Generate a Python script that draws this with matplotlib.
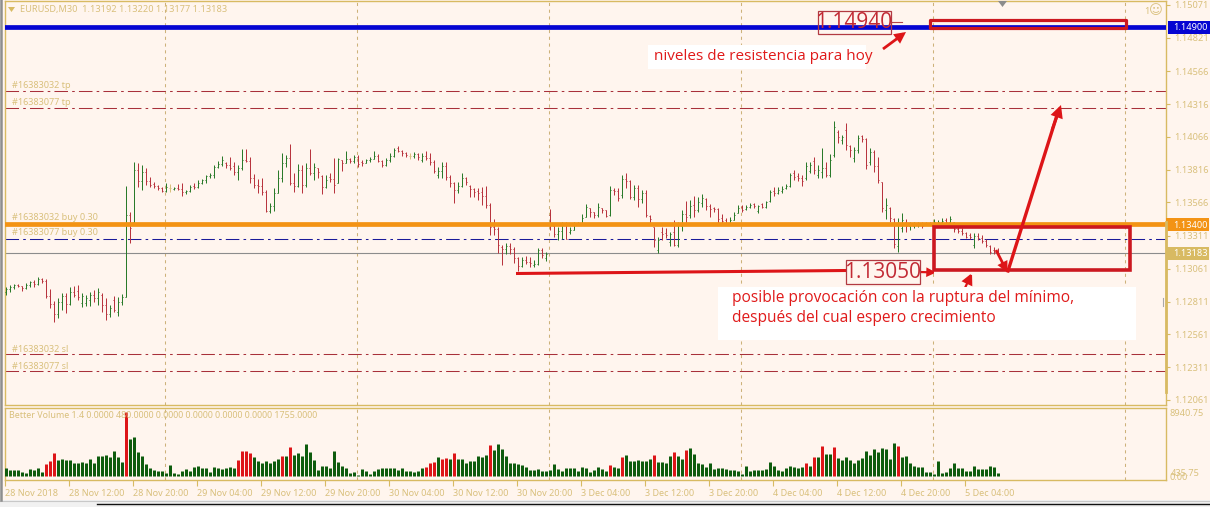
import matplotlib
matplotlib.use("Agg")
import matplotlib.pyplot as plt
from matplotlib.patches import Rectangle, FancyArrowPatch

opens = [
1.12884,1.12907,1.12922,1.12937,1.12930,1.12914,1.12937,1.12960,1.12945,1.12983,
1.12968,1.12854,1.12792,1.12716,1.12808,1.12854,1.12792,1.12884,1.12892,1.12800,
1.12800,1.12823,1.12861,1.12838,1.12861,1.12785,1.12716,1.12823,1.12732,1.12808,
1.12846,1.13471,1.13417,1.13814,1.13730,1.13798,1.13730,1.13707,1.13692,1.13676,
1.13654,1.13676,1.13669,1.13676,1.13669,1.13646,1.13654,1.13692,1.13684,1.13714,
1.13737,1.13768,1.13776,1.13836,1.13859,1.13867,1.13852,1.13844,1.13798,1.13829,
1.13890,1.13882,1.13753,1.13699,1.13692,1.13646,1.13501,1.13539,1.13638,1.13753,
1.13867,1.13905,1.13714,1.13692,1.13814,1.13699,1.13829,1.13791,1.13829,1.13768,
1.13684,1.13760,1.13745,1.13714,1.13890,1.13867,1.13897,1.13882,1.13913,1.13875,
1.13867,1.13890,1.13897,1.13920,1.13882,1.13852,1.13890,1.13920,1.13981,1.13958,
1.13943,1.13920,1.13920,1.13935,1.13890,1.13920,1.13905,1.13875,1.13776,1.13806,
1.13844,1.13760,1.13714,1.13661,1.13692,1.13753,1.13692,1.13669,1.13654,1.13646,
1.13616,1.13547,1.13379,1.13364,1.13227,1.13212,1.13235,1.13212,1.13143,1.13082,
1.13128,1.13113,1.13090,1.13097,1.13204,1.13143,1.13471,1.13387,1.13326,1.13349,
1.13394,1.13341,1.13356,1.13402,1.13402,1.13455,1.13524,1.13494,1.13471,1.13524,
1.13509,1.13471,1.13661,1.13654,1.13623,1.13745,1.13730,1.13608,1.13676,1.13593,
1.13638,1.13463,1.13379,1.13204,1.13341,1.13333,1.13265,1.13341,1.13242,1.13387,
1.13478,1.13471,1.13547,1.13509,1.13562,1.13593,1.13539,1.13524,1.13516,1.13448,
1.13433,1.13410,1.13433,1.13486,1.13532,1.13516,1.13532,1.13554,1.13501,1.13554,
1.13532,1.13577,1.13654,1.13638,1.13654,1.13676,1.13692,1.13791,1.13768,1.13753,
1.13753,1.13806,1.13882,1.13776,1.13798,1.13829,1.13776,1.13928,1.14103,1.14042,
1.14118,1.13996,1.13905,1.13966,1.14073,1.14050,1.13875,1.13951,1.13844,1.13722,
1.13509,1.13524,1.13440,1.13235,1.13372,1.13417,1.13387,1.13387,1.13394,1.13402,
1.13410,1.13402,1.13402,1.13402,1.13417,1.13433,1.13417,1.13417,1.13364,1.13349,
1.13333,1.13318,1.13242,1.13311,1.13295,1.13273,1.13235,1.13204,1.13192]
highs = [
1.12922,1.12937,1.12945,1.12945,1.12930,1.12953,1.12968,1.12975,1.12998,1.12991,
1.12983,1.12907,1.12815,1.12838,1.12876,1.12876,1.12922,1.12930,1.12937,1.12876,
1.12861,1.12884,1.12899,1.12914,1.12876,1.12838,1.12785,1.12854,1.12846,1.12869,
1.13692,1.13494,1.13875,1.13867,1.13852,1.13829,1.13760,1.13722,1.13699,1.13684,
1.13714,1.13707,1.13684,1.13707,1.13714,1.13661,1.13699,1.13714,1.13737,1.13745,
1.13776,1.13791,1.13852,1.13882,1.13920,1.13875,1.13913,1.13875,1.13852,1.13974,
1.13974,1.13913,1.13783,1.13745,1.13753,1.13661,1.13562,1.13676,1.13814,1.13943,
1.13928,1.14012,1.13791,1.13859,1.13852,1.13867,1.13974,1.13867,1.13829,1.13776,
1.13776,1.13791,1.13905,1.13905,1.13890,1.13958,1.13905,1.13928,1.13928,1.13890,
1.13897,1.13913,1.13958,1.13935,1.13890,1.13905,1.13943,1.13981,1.13996,1.13966,
1.13951,1.13943,1.13951,1.13943,1.13943,1.13958,1.13943,1.13890,1.13836,1.13875,
1.13875,1.13776,1.13722,1.13722,1.13791,1.13760,1.13699,1.13676,1.13676,1.13684,
1.13692,1.13562,1.13440,1.13379,1.13242,1.13257,1.13257,1.13227,1.13151,1.13151,
1.13158,1.13151,1.13128,1.13219,1.13219,1.13189,1.13516,1.13394,1.13379,1.13417,
1.13417,1.13379,1.13417,1.13417,1.13478,1.13554,1.13524,1.13494,1.13562,1.13524,
1.13509,1.13692,1.13676,1.13676,1.13776,1.13791,1.13737,1.13699,1.13699,1.13661,
1.13661,1.13471,1.13379,1.13303,1.13379,1.13372,1.13341,1.13433,1.13417,1.13509,
1.13577,1.13585,1.13616,1.13608,1.13631,1.13600,1.13554,1.13532,1.13524,1.13478,
1.13448,1.13455,1.13494,1.13547,1.13547,1.13547,1.13562,1.13562,1.13547,1.13562,
1.13577,1.13661,1.13684,1.13684,1.13692,1.13707,1.13791,1.13814,1.13791,1.13776,
1.13875,1.13875,1.13913,1.13852,1.13981,1.13875,1.13935,1.14187,1.14118,1.14080,
1.14172,1.14004,1.13989,1.14080,1.14080,1.14057,1.13981,1.13966,1.13913,1.13722,
1.13600,1.13532,1.13448,1.13448,1.13486,1.13440,1.13417,1.13417,1.13417,1.13417,
1.13417,1.13417,1.13440,1.13433,1.13448,1.13448,1.13463,1.13417,1.13379,1.13372,
1.13341,1.13333,1.13333,1.13333,1.13318,1.13288,1.13242,1.13227,1.13220]
lows = [
1.12861,1.12884,1.12907,1.12922,1.12892,1.12907,1.12922,1.12922,1.12937,1.12953,
1.12838,1.12762,1.12655,1.12686,1.12747,1.12724,1.12785,1.12846,1.12823,1.12770,
1.12777,1.12777,1.12808,1.12785,1.12732,1.12671,1.12693,1.12732,1.12701,1.12785,
1.12846,1.13257,1.13402,1.13684,1.13661,1.13699,1.13684,1.13676,1.13661,1.13646,
1.13646,1.13646,1.13661,1.13661,1.13616,1.13631,1.13646,1.13669,1.13676,1.13707,
1.13714,1.13753,1.13753,1.13829,1.13844,1.13829,1.13814,1.13776,1.13737,1.13814,
1.13875,1.13714,1.13676,1.13638,1.13623,1.13494,1.13486,1.13501,1.13638,1.13722,
1.13836,1.13699,1.13646,1.13684,1.13638,1.13684,1.13776,1.13737,1.13753,1.13631,
1.13676,1.13722,1.13638,1.13714,1.13806,1.13867,1.13867,1.13867,1.13836,1.13844,
1.13867,1.13875,1.13897,1.13875,1.13836,1.13844,1.13875,1.13913,1.13951,1.13920,
1.13913,1.13897,1.13905,1.13890,1.13875,1.13890,1.13852,1.13791,1.13753,1.13753,
1.13737,1.13684,1.13562,1.13638,1.13684,1.13699,1.13608,1.13608,1.13585,1.13547,
1.13524,1.13318,1.13318,1.13181,1.13090,1.13174,1.13174,1.13105,1.13044,1.13075,
1.13097,1.13075,1.13075,1.13090,1.13143,1.13120,1.13356,1.13303,1.13280,1.13288,
1.13288,1.13326,1.13356,1.13394,1.13394,1.13455,1.13455,1.13448,1.13455,1.13486,
1.13455,1.13463,1.13623,1.13577,1.13600,1.13676,1.13593,1.13585,1.13532,1.13562,
1.13455,1.13410,1.13227,1.13181,1.13280,1.13295,1.13235,1.13235,1.13227,1.13349,
1.13410,1.13448,1.13455,1.13494,1.13532,1.13509,1.13455,1.13494,1.13410,1.13394,
1.13394,1.13410,1.13433,1.13486,1.13494,1.13509,1.13524,1.13524,1.13486,1.13524,
1.13524,1.13570,1.13616,1.13631,1.13638,1.13669,1.13684,1.13737,1.13730,1.13692,
1.13737,1.13791,1.13783,1.13753,1.13753,1.13760,1.13760,1.13913,1.14019,1.14012,
1.13966,1.13913,1.13875,1.13943,1.14027,1.13821,1.13852,1.13798,1.13714,1.13494,
1.13440,1.13417,1.13219,1.13189,1.13341,1.13341,1.13356,1.13372,1.13379,1.13372,
1.13394,1.13394,1.13387,1.13394,1.13394,1.13394,1.13410,1.13341,1.13333,1.13318,
1.13295,1.13288,1.13219,1.13280,1.13257,1.13227,1.13174,1.13174,1.13177]
closes = [
1.12907,1.12922,1.12937,1.12930,1.12914,1.12937,1.12960,1.12945,1.12983,1.12968,
1.12854,1.12792,1.12716,1.12808,1.12854,1.12792,1.12884,1.12861,1.12846,1.12854,
1.12838,1.12861,1.12838,1.12884,1.12785,1.12716,1.12762,1.12747,1.12808,1.12846,
1.13471,1.13372,1.13814,1.13730,1.13798,1.13730,1.13699,1.13692,1.13676,1.13654,
1.13684,1.13676,1.13676,1.13669,1.13646,1.13654,1.13684,1.13684,1.13714,1.13737,
1.13768,1.13776,1.13836,1.13859,1.13890,1.13852,1.13829,1.13798,1.13829,1.13890,
1.13882,1.13753,1.13699,1.13692,1.13646,1.13501,1.13539,1.13638,1.13753,1.13867,
1.13905,1.13714,1.13692,1.13814,1.13699,1.13829,1.13791,1.13836,1.13798,1.13684,
1.13737,1.13745,1.13699,1.13897,1.13867,1.13897,1.13882,1.13913,1.13859,1.13867,
1.13890,1.13897,1.13920,1.13882,1.13852,1.13890,1.13920,1.13966,1.13958,1.13943,
1.13928,1.13920,1.13935,1.13913,1.13920,1.13905,1.13875,1.13806,1.13806,1.13844,
1.13760,1.13714,1.13661,1.13692,1.13753,1.13722,1.13669,1.13646,1.13638,1.13616,
1.13547,1.13379,1.13364,1.13242,1.13212,1.13235,1.13212,1.13143,1.13082,1.13128,
1.13113,1.13105,1.13097,1.13204,1.13166,1.13174,1.13394,1.13326,1.13349,1.13394,
1.13288,1.13356,1.13402,1.13410,1.13448,1.13532,1.13494,1.13471,1.13532,1.13509,
1.13463,1.13661,1.13654,1.13600,1.13745,1.13730,1.13608,1.13676,1.13593,1.13638,
1.13471,1.13440,1.13280,1.13280,1.13326,1.13318,1.13326,1.13242,1.13402,1.13478,
1.13455,1.13539,1.13509,1.13570,1.13600,1.13539,1.13516,1.13516,1.13440,1.13425,
1.13410,1.13433,1.13471,1.13524,1.13509,1.13532,1.13547,1.13539,1.13539,1.13532,
1.13570,1.13646,1.13638,1.13661,1.13669,1.13692,1.13776,1.13760,1.13753,1.13730,
1.13844,1.13852,1.13814,1.13814,1.13829,1.13776,1.13890,1.14141,1.14065,1.14065,
1.14004,1.13966,1.13966,1.14057,1.14050,1.13852,1.13951,1.13844,1.13737,1.13524,
1.13547,1.13448,1.13250,1.13402,1.13433,1.13387,1.13402,1.13402,1.13402,1.13387,
1.13402,1.13410,1.13417,1.13417,1.13425,1.13417,1.13440,1.13364,1.13349,1.13333,
1.13303,1.13303,1.13311,1.13295,1.13273,1.13242,1.13189,1.13189,1.13183]
volumes = [
1120,840,840,840,560,420,980,840,1120,560,
1680,2100,3220,2240,2380,2240,2240,1820,1820,1960,
1820,2380,1820,2800,2800,2940,2660,3500,2660,1960,
9100,5320,5600,3360,2800,1680,1120,840,700,700,
420,1540,420,280,700,980,700,1260,1400,1120,
1120,560,1260,1120,980,1120,1260,1120,2240,3500,
3500,3220,2660,2100,1820,2100,1820,2100,2380,2800,
2800,4060,2940,3220,2800,4620,3360,2240,840,1400,
1400,1120,3500,1960,1400,1120,420,560,140,980,
700,280,700,980,1120,1120,1120,1120,840,1120,
700,700,560,700,1120,1260,1820,1960,2660,2380,
2520,2380,3220,2380,2380,1820,2100,2100,2800,2660,
2940,4340,3640,4480,3780,2800,1820,1820,1680,1540,
1260,840,840,980,700,700,840,1680,980,700,
1120,1120,1120,700,1260,1120,560,840,1260,980,
700,1540,1260,1120,2660,2940,2100,2100,2240,2100,
2100,2380,2940,1960,1960,1820,2800,3360,2800,2380,
3640,3920,3080,1820,1680,1260,1820,980,1120,1120,
980,840,840,700,280,1400,700,840,840,840,
980,1960,1400,840,700,1120,1400,1260,1120,1260,
1820,1400,2660,2660,4200,3080,3080,4060,2520,2240,
2660,2240,1820,2240,2520,3500,2940,3780,3360,3920,
3780,2380,4760,4200,2660,2800,1820,1400,1260,1260,
560,560,280,2100,420,560,1120,1820,1120,1120,
700,700,1400,980,980,980,1400,1260,420]
red_volume_bars = [10,11,12,30,58,59,60,61,69,71,105,106,107,109,110,112,121,151,154,
                   162,167,170,200,202,204,207,223]

price_ticks = [1.15071,1.14821,1.14566,1.14316,1.14066,1.13816,1.13566,1.13311,1.13061,1.12811,1.12561,1.12311,1.12061]
price_tick_labels = ["1.15071","1.14821","1.14566","1.14316","1.14066","1.13816","1.13566","1.13311","1.13061","1.12811","1.12561","1.12311","1.12061"]
time_labels = ["28 Nov 2018","28 Nov 12:00","28 Nov 20:00","29 Nov 04:00","29 Nov 12:00","29 Nov 20:00",
               "30 Nov 04:00","30 Nov 12:00","30 Nov 20:00","3 Dec 04:00","3 Dec 12:00","3 Dec 20:00",
               "4 Dec 04:00","4 Dec 12:00","4 Dec 20:00","5 Dec 04:00"]
separators = [39.75,87.75,135.75,183.75,231.75,279.75]

resistance_level = 1.14900
support_level = 1.13400
current_price = 1.13183
order2_open = 1.13288
tp_levels = [1.14416,1.14286]
sl_levels = [1.12411,1.12282]
order_tags = [("#16383032 tp",1.14455),("#16383077 tp",1.14325),("#16383032 buy 0.30",1.13455),
              ("#16383077 buy 0.30",1.13335),("#16383032 sl",1.12447),("#16383077 sl",1.12320)]

BG = "#FFF5EE"; GOLD = "#D8BA62"; TAN = "#D9C07C"
GREEN = "#2A7A2A"; RED = "#B8343E"; ARROW = "#DD1518"; DARK = "#CC1820"
FONT = ["Noto Sans"]
W, H = 1210, 507

fig = plt.figure(figsize=(W/100, H/100), dpi=100, facecolor="#F1F1F1")

def axes_px(x0, y0, x1, y1, **kw):
    return fig.add_axes([x0/W, 1-y1/H, (x1-x0)/W, (y1-y0)/H], **kw)

bg = axes_px(2, 0, W, 500, facecolor=BG)
bg.set_xticks([]); bg.set_yticks([])
for s in bg.spines.values():
    s.set_visible(False)

ax = axes_px(4.5, 1, 1166, 405, facecolor=BG)
vx = axes_px(4.5, 408, 1166, 480, facecolor=BG)
for a in (ax, vx):
    for s in a.spines.values():
        s.set_color(GOLD); s.set_linewidth(1.0)
    a.set_xlim(-0.37, 290.0)
    for sep in separators:
        a.axvline(sep, color="#CDB27A", lw=0.75, ls=(0, (3, 3.5)), zorder=1)

ax.set_ylim(1.15109-405*7.62e-5, 1.15109-1*7.62e-5)
ax.set_xticks([])
ax.yaxis.tick_right()
ax.set_yticks(price_ticks)
ax.set_yticklabels(price_tick_labels, fontsize=6.6, color=TAN, family=FONT)
ax.tick_params(axis="y", length=3, width=0.8, color=GOLD, pad=3)

# reference lines
for lv in tp_levels + sl_levels:
    ax.axhline(lv, color="#A8303A", lw=0.75, ls=(0, (13, 4, 2.5, 4)), zorder=2)
ax.axhline(order2_open, color="#1A1A9A", lw=0.75, ls=(0, (13, 4, 2.5, 4)), zorder=2)
ax.axhline(current_price, color="#8C8C8C", lw=0.8, zorder=2)

# OHLC bars
for i, (o, h, l, c) in enumerate(zip(opens, highs, lows, closes)):
    col = GREEN if c > o else RED if c < o else TAN
    ax.vlines(i, l, h, color=col, lw=0.72, zorder=3)
    ax.hlines(o, i-0.27, i, color=col, lw=0.72, zorder=3)
    ax.hlines(c, i, i+0.27, color=col, lw=0.72, zorder=3)

ax.axhline(support_level, color="#F39314", lw=3.4, zorder=4)
ax.axhline(resistance_level, color="#0505D2", lw=3.4, zorder=4)

# volume pane
xs = list(range(len(volumes)))
colors = ["#DD1518" if i in red_volume_bars else "#0E5C0E" for i in xs]
vx.vlines(xs, 0, volumes, colors=colors, lw=2.16, zorder=3, capstyle="butt")
vx.set_ylim(-560, 9660)
vx.yaxis.tick_right()
vx.set_yticks([])
tick_x = [k*16-0.25 for k in range(len(time_labels))]
vx.set_xticks(tick_x)
vx.set_xticklabels(time_labels, fontsize=6.5, color=TAN, family=FONT, ha="left")
vx.tick_params(axis="x", length=4, width=0.8, color=GOLD, pad=2.5)

# overlay in pixel space for hand-drawn annotations
ov = fig.add_axes([0, 0, 1, 1], facecolor="none", zorder=10)
ov.set_xlim(0, W); ov.set_ylim(H, 0); ov.axis("off")

def T(x, y, s, **kw):
    kw.setdefault("color", TAN); kw.setdefault("fontsize", 6.6); kw.setdefault("family", FONT)
    kw.setdefault("va", "center")
    ov.text(x, y, s, **kw)

def arrow(p0, p1, lw, scale, color=ARROW):
    ov.add_patch(FancyArrowPatch(p0, p1, arrowstyle="-|>", mutation_scale=scale, lw=lw, color=color,
                                 shrinkA=0, shrinkB=0, joinstyle="miter", capstyle="butt"))

ov.fill([8, 15, 11.5], [7, 7, 12], color=GOLD, lw=0)
T(20, 9.5, "EURUSD,M30  1.13192 1.13220 1.13177 1.13183", fontsize=6.6)
ov.fill([998, 1007, 1002.5], [1, 1, 7], color="#8C8C8C", lw=0)
T(1144, 11, "1")
T(1155.5, 11, "\u263A", fontsize=9.5, family=["DejaVu Sans"], ha="center")
for text, price in order_tags:
    y = (1.15109-price)/7.62e-5
    T(12, y, text, fontsize=6.5)
T(9, 415.5, "Better Volume 1.4 0.0000 480.0000 0.0000 0.0000 0.0000 0.0000 1755.0000", fontsize=6.4)

# right axis labels
ov.add_patch(Rectangle((1168, 21), 42, 12.5, color="#0505D2", lw=0))
T(1173, 27.5, "1.14900", color="white")
ov.add_patch(Rectangle((1166, 218), 43, 13, color="#F39314", lw=0))
T(1173, 225, "1.13400", color="white")
ov.add_patch(Rectangle((1166, 247), 43, 13, color=GOLD, lw=0))
T(1173, 253.5, "1.13183", color="white")
ov.plot([1165.5, 1165.5], [222, 392], color=GOLD, lw=2.0)
ov.plot([1163, 1163], [298, 306], color="#A8A8A8", lw=0.8)
T(1170, 413.5, "8940.75")
T(1171, 473, "435.75")
T(1169, 478, "0.00")

# bottom chrome
ov.plot([0, 1210], [500.5, 500.5], color="#C8C8C8", lw=0.8)
ov.plot([97, 1210], [503.5, 503.5], color="#111111", lw=1.0)
ov.plot([1, 1], [0, 500], color="#8E8E8E", lw=1.8)

# white note boxes
ov.add_patch(Rectangle((648, 45), 218, 24, color="white", lw=0, zorder=2))
ov.add_patch(Rectangle((718, 287), 418, 53, color="white", lw=0, zorder=2))
NOTE = ["Open Sans", "DejaVu Sans"]
T(654, 57, "niveles de resistencia para hoy", color="#E01A1A", fontsize=11.0, family=NOTE, zorder=3)
T(732, 298, "posible provocación con la ruptura del mínimo,", color="#E01A1A", fontsize=11.2, family=NOTE, zorder=3)
T(732, 318.5, "después del cual espero crecimiento", color="#E01A1A", fontsize=11.2, family=NOTE, zorder=3)

# rectangles
ov.add_patch(Rectangle((929.5, 19.5), 196.5, 8.5, fill=False, ec=DARK, lw=2.3, joinstyle="round"))
ov.add_patch(Rectangle((933.5, 226.5), 196.5, 43, fill=False, ec=DARK, lw=2.6))

# boxed prices
ov.add_patch(Rectangle((817.5, 11), 73.5, 23, fill=False, ec="#B23A42", lw=0.9, zorder=5))
T(854, 23, "1.14940", color="#C22A34", fontsize=15.0, family=["Open Sans"], ha="center", zorder=5)
ov.plot([891, 902], [22, 22], color="#B0444A", lw=0.8)
ov.add_patch(Rectangle((846, 259.5), 73.5, 24, facecolor=BG, ec="#B23A42", lw=0.9, zorder=5))
T(882.5, 272, "1.13050", color="#C22A34", fontsize=15.0, family=["Open Sans"], ha="center", zorder=6)

# arrows and lines
ov.plot([516, 846], [273.5, 270.5], color=ARROW, lw=2.2, solid_capstyle="butt")
arrow((883, 49), (906, 32), 2.0, 13)
arrow((920, 272), (936, 272.5), 1.6, 11)
arrow((964, 290), (972, 273), 1.6, 15)
arrow((996, 250), (1007.5, 272.5), 2.0, 12)
ov.plot([1007.5, 1058], [272.5, 112], color=ARROW, lw=2.4, solid_capstyle="butt")
arrow((1052, 130), (1061, 105), 2.0, 15)

fig.savefig("out.png", dpi=100, facecolor=fig.get_facecolor())
